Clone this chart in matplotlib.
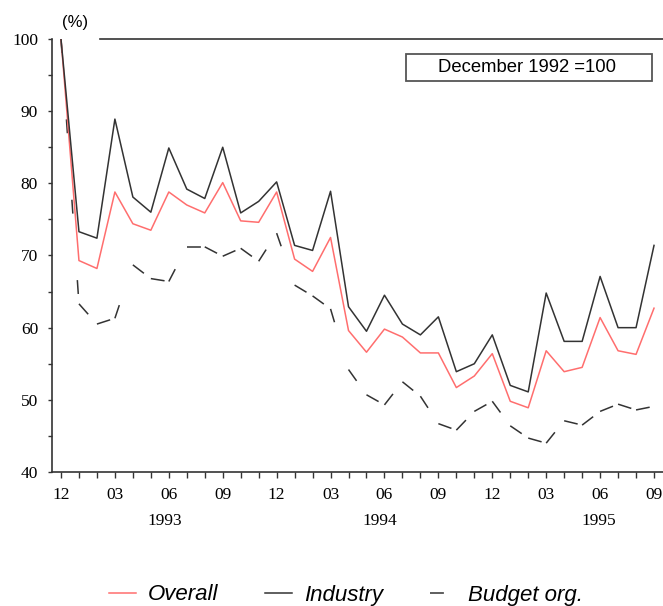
import numpy as np
import matplotlib
matplotlib.use("Agg")
import matplotlib.pyplot as plt
from matplotlib.patches import Rectangle
import matplotlib.transforms as mtransforms

# monthly index, Dec 1992 = 100
months = list(range(34))  # 12/92 .. 09/95
month_labels = ['12', '03', '06', '09', '12', '03', '06', '09', '12', '03', '06', '09']
years = ['1993', '1994', '1995']
year_pos = [5.75, 17.75, 29.9]

overall = [100, 69.3, 68.2, 78.8, 74.4, 73.5, 78.8, 77.0, 75.9, 80.1, 74.8, 74.6,
           78.8, 69.5, 67.8, 72.5, 59.6, 56.6, 59.8, 58.7, 56.5, 56.5, 51.7, 53.3,
           56.4, 49.8, 48.9, 56.8, 53.9, 54.5, 61.4, 56.8, 56.3, 62.7]
industry = [100, 73.3, 72.4, 88.9, 78.1, 76.0, 84.9, 79.2, 77.9, 85.0, 75.9, 77.5,
            80.2, 71.4, 70.7, 78.9, 62.9, 59.5, 64.5, 60.5, 59.0, 61.5, 53.9, 55.0,
            59.0, 52.0, 51.1, 64.8, 58.1, 58.1, 67.1, 60.0, 60.0, 71.4]
budget = [100, 63.3, 60.5, 61.3, 68.7, 66.8, 66.4, 71.2, 71.2, 69.9, 71.0, 69.2,
          73.1, 65.9, 64.4, 62.6, 54.2, 50.7, 49.3, 52.5, 50.5, 46.7, 45.8, 48.4,
          49.8, 46.4, 44.7, 44.0, 47.1, 46.5, 48.4, 49.4, 48.6, 49.1]

plt.rcParams['lines.scale_dashes'] = False
dark = '#333333'
red = '#ff6e6e'
serif = 'Liberation Serif'
sans = 'Liberation Sans'

fig = plt.figure(figsize=(6.63, 6.06), dpi=100)
ax = fig.add_axes([52/663, 1-472/606, 611/663, 433/606])

# budget line: dash pattern restarts on every segment, like the original
dash = (0, (10, 48))
for i in range(len(months)-1):
    ax.plot(months[i:i+2], budget[i:i+2], color=dark, lw=1.1, linestyle=dash,
            dash_capstyle='butt', label='Budget org.' if i == 0 else None)
ax.plot(months, overall, color=red, lw=1.1, label='Overall')
ax.plot(months, industry, color=dark, lw=1.1, label='Industry')

ax.set_xlim(-0.5, 33.5)
ax.set_ylim(40, 100)

for s in ['top', 'right']:
    ax.spines[s].set_visible(False)
for s in ['left', 'bottom']:
    ax.spines[s].set_color(dark)
    ax.spines[s].set_linewidth(1.2)
ax.axhline(100, xmin=(100-52)/611, xmax=1, color=dark, lw=1.2, clip_on=False)

ax.set_yticks(range(40, 101, 10))
ax.set_yticks(range(45, 100, 10), minor=True)
ax.set_xticks(months[::3])
ax.set_xticklabels(month_labels)
ax.set_xticks(months, minor=True)
ax.tick_params(axis='y', which='both', direction='out', length=3, width=1, color=dark, pad=7)
ax.tick_params(axis='x', which='both', direction='out', length=4, width=1, color=dark, pad=7)
for lab in ax.get_xticklabels() + ax.get_yticklabels():
    lab.set_fontfamily(serif)
    lab.set_fontsize(12.5)

trans = mtransforms.blended_transform_factory(ax.transData, ax.transAxes)
for yr, p in zip(years, year_pos):
    ax.text(p, (472-521)/433, yr, transform=trans, ha='center', va='center',
            fontfamily=serif, fontsize=12.5)

# base note box
ax.add_patch(Rectangle(((406-52)/611, (472-81)/433), 246/611, 27/433,
                       transform=ax.transAxes, fill=False, ec='#555555', lw=1.3, clip_on=False))
ax.text((526.5-52)/611, (472-67.5)/433, 'December 1992 =100', transform=ax.transAxes,
        ha='center', va='center', fontfamily=sans, fontsize=13.3)

fig.text(75/663, 1-22/606, '(%)', ha='center', va='center', fontfamily=sans, fontsize=12)

h, l = ax.get_legend_handles_labels()
order = [l.index('Overall'), l.index('Industry'), l.index('Budget org.')]
fig.legend([h[i] for i in order], [l[i] for i in order], loc='center',
           bbox_to_anchor=(0.522, 1-595/606), ncol=3, frameon=False,
           prop={'family': sans, 'style': 'italic', 'size': 16},
           handlelength=1.2, handletextpad=0.55, columnspacing=2.1)

fig.savefig('out.png', dpi=100)
